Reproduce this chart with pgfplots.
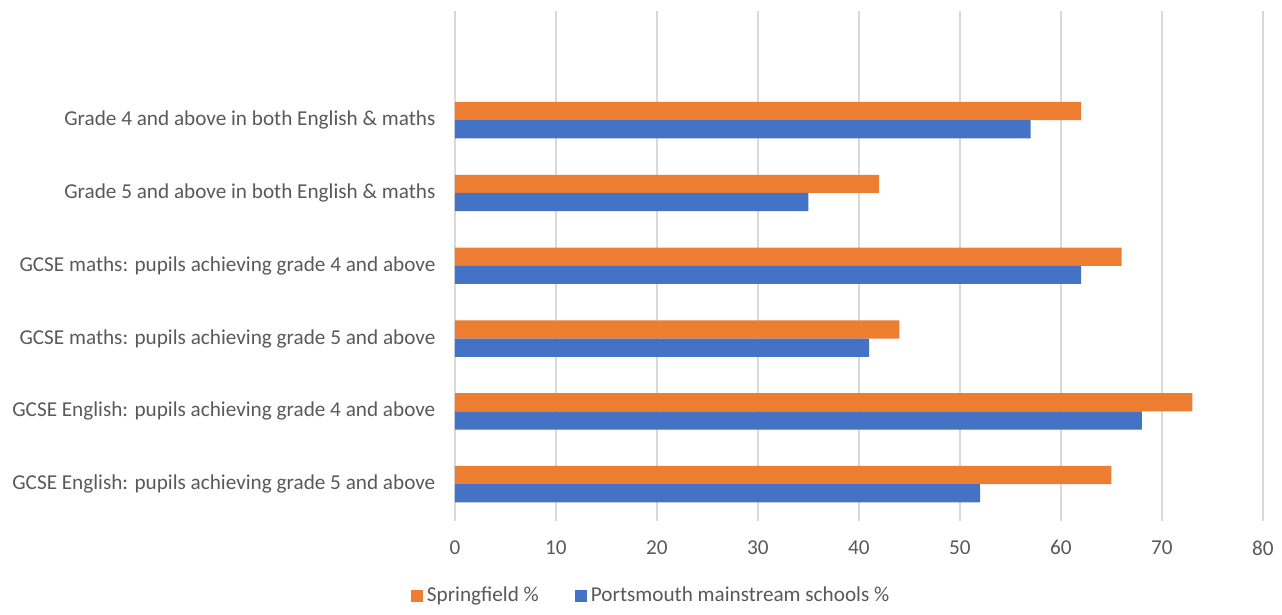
\documentclass[border=0pt]{standalone}
\usepackage{pgfplots}
\pgfplotsset{compat=1.18}
\usepackage{pgfplotstable}
\usepackage{fontspec}
\setmainfont{Carlito}
\definecolor{sforange}{HTML}{ED7D31}
\definecolor{pmblue}{HTML}{4472C4}
\definecolor{gridgray}{HTML}{D9D9D9}
\definecolor{textgray}{HTML}{595959}

% rows from bottom (0) to top (5); slot 6 is left empty as in the original
\pgfplotstableread{
idx spring ports
0 65 52
1 73 68
2 44 41
3 66 62
4 42 35
5 62 57
}\results

\begin{document}
\begin{tikzpicture}
\path[use as bounding box] (-227.5pt,-47pt) rectangle (413.5pt,260.3pt);
\begin{axis}[
    xbar,
    scale only axis,
    width=404pt, height=254.8pt,
    xmin=0, xmax=80,
    ymin=-0.5, ymax=6.5,
    xtick={0,10,...,80},
    ytick={0,...,5},
    yticklabels={
        GCSE English: pupils achieving grade 5 and above,
        GCSE English: pupils achieving grade 4 and above,
        GCSE maths: pupils achieving grade 5 and above,
        GCSE maths: pupils achieving grade 4 and above,
        Grade 5 and above in both English \& maths,
        Grade 4 and above in both English \& maths},
    xmajorgrids,
    major grid style={gridgray, line width=0.7pt},
    axis line style={draw=none},
    tick style={draw=none},
    /pgf/number format/assume math mode=true,
    tick label style={font=\fontsize{10.6}{12.5}\selectfont, text=textgray},
    xticklabel style={yshift=-6.5pt},
    yticklabel style={xshift=-2pt},
    bar width=0.25,
    legend style={at={(0.244,-0.147)}, anchor=center, draw=none,
        legend columns=2, font=\fontsize{10.6}{12.5}\selectfont, text=textgray,
        /tikz/every even column/.append style={column sep=16pt}},
    legend image code/.code={\fill[#1] (0pt,-3pt) rectangle (6pt,3pt);},
]
\addplot[draw=none, fill=sforange, bar shift=0.125] table[x=spring, y=idx] {\results};
\addlegendentry{Springfield \%}
\addplot[draw=none, fill=pmblue, bar shift=-0.125] table[x=ports, y=idx] {\results};
\addlegendentry{Portsmouth mainstream schools \%}
\end{axis}
\end{tikzpicture}
\end{document}
